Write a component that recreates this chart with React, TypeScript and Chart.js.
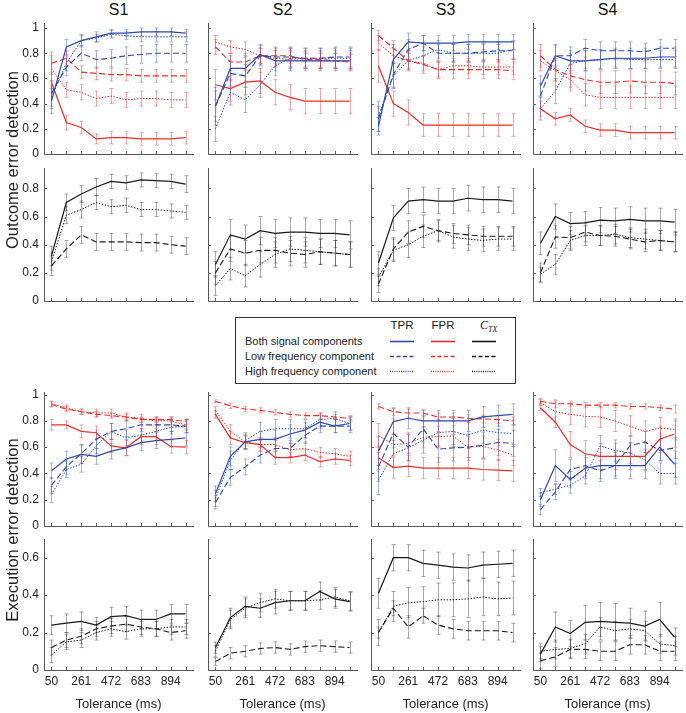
import React, { useEffect, useRef } from "react";
import { Chart, registerables } from "chart.js";

Chart.register(...registerables);

// ---------------- data ----------------
const TOLERANCE = [50, 155.5, 261, 366.5, 472, 577.5, 683, 788.5, 894, 999.5];
const X_TICK_LABELS = ["50", "261", "472", "683", "894"];
const SUBJECTS = ["S1", "S2", "S3", "S4"];
const RATE_Y_TICKS = [0, 0.2, 0.4, 0.6, 0.8, 1];
const OUT_CTX_Y_TICKS = [0, 0.2, 0.4, 0.6, 0.8];
const EXE_CTX_Y_TICKS = [0, 0.2, 0.4, 0.6];
const RATE_SERIES = ["TPR both", "TPR low", "TPR high", "FPR both", "FPR low", "FPR high"];
const CTX_SERIES = ["C_TX both", "C_TX low", "C_TX high"];

// Outcome error detection: TPR / FPR
const OUT_RATE_S1 = [
  [0.42, 0.85, 0.9, 0.93, 0.96, 0.96, 0.97, 0.97, 0.97, 0.96],
  [0.48, 0.69, 0.8, 0.75, 0.76, 0.78, 0.79, 0.8, 0.8, 0.8],
  [0.45, 0.72, 0.9, 0.92, 0.95, 0.94, 0.93, 0.93, 0.93, 0.93],
  [0.57, 0.25, 0.21, 0.12, 0.13, 0.13, 0.12, 0.12, 0.12, 0.13],
  [0.72, 0.76, 0.65, 0.64, 0.63, 0.63, 0.62, 0.62, 0.62, 0.62],
  [0.68, 0.51, 0.49, 0.44, 0.46, 0.43, 0.44, 0.44, 0.43, 0.43],
];
const OUT_RATE_S1_ERR = [
  [0.1, 0.06, 0.05, 0.04, 0.03, 0.03, 0.03, 0.03, 0.03, 0.03],
  [0.1, 0.07, 0.06, 0.07, 0.07, 0.07, 0.07, 0.07, 0.07, 0.07],
  [0.09, 0.06, 0.04, 0.03, 0.03, 0.03, 0.04, 0.04, 0.04, 0.04],
  [0.08, 0.06, 0.05, 0.04, 0.05, 0.05, 0.05, 0.05, 0.05, 0.05],
  [0.09, 0.06, 0.05, 0.05, 0.05, 0.05, 0.05, 0.05, 0.05, 0.05],
  [0.1, 0.06, 0.06, 0.06, 0.06, 0.06, 0.06, 0.06, 0.06, 0.06],
];
const OUT_RATE_S2 = [
  [0.38, 0.68, 0.68, 0.79, 0.74, 0.74, 0.74, 0.74, 0.74, 0.74],
  [0.38, 0.64, 0.62, 0.78, 0.77, 0.77, 0.76, 0.76, 0.77, 0.77],
  [0.2, 0.49, 0.43, 0.55, 0.7, 0.76, 0.76, 0.76, 0.76, 0.76],
  [0.55, 0.52, 0.57, 0.58, 0.49, 0.45, 0.42, 0.42, 0.42, 0.42],
  [0.85, 0.73, 0.73, 0.78, 0.78, 0.78, 0.75, 0.75, 0.74, 0.73],
  [0.89, 0.85, 0.83, 0.78, 0.76, 0.75, 0.74, 0.74, 0.74, 0.74],
];
const OUT_RATE_S2_ERR = [
  [0.15, 0.1, 0.1, 0.08, 0.08, 0.08, 0.08, 0.08, 0.08, 0.08],
  [0.12, 0.1, 0.09, 0.08, 0.08, 0.08, 0.08, 0.08, 0.08, 0.08],
  [0.1, 0.1, 0.1, 0.1, 0.08, 0.08, 0.08, 0.08, 0.08, 0.08],
  [0.12, 0.1, 0.1, 0.1, 0.1, 0.1, 0.1, 0.1, 0.1, 0.1],
  [0.06, 0.07, 0.07, 0.06, 0.06, 0.06, 0.06, 0.06, 0.06, 0.06],
  [0.05, 0.05, 0.06, 0.06, 0.06, 0.06, 0.06, 0.06, 0.06, 0.06],
];
const OUT_RATE_S3 = [
  [0.22, 0.75, 0.89, 0.88, 0.88, 0.88, 0.89, 0.89, 0.89, 0.89],
  [0.28, 0.63, 0.83, 0.88, 0.8, 0.8, 0.8, 0.81, 0.82, 0.82],
  [0.3, 0.62, 0.74, 0.78, 0.83, 0.8, 0.8, 0.8, 0.8, 0.83],
  [0.7, 0.4, 0.33, 0.23, 0.23, 0.23, 0.23, 0.23, 0.23, 0.23],
  [0.94, 0.84, 0.74, 0.71, 0.67, 0.67, 0.67, 0.67, 0.67, 0.66],
  [0.88, 0.78, 0.74, 0.72, 0.67, 0.7, 0.7, 0.69, 0.69, 0.69],
];
const OUT_RATE_S3_ERR = [
  [0.07, 0.12, 0.07, 0.06, 0.06, 0.06, 0.06, 0.06, 0.06, 0.06],
  [0.1, 0.1, 0.08, 0.06, 0.07, 0.07, 0.07, 0.07, 0.07, 0.07],
  [0.12, 0.1, 0.08, 0.07, 0.07, 0.07, 0.07, 0.07, 0.07, 0.07],
  [0.13, 0.1, 0.1, 0.09, 0.09, 0.09, 0.09, 0.09, 0.09, 0.09],
  [0.04, 0.06, 0.07, 0.07, 0.07, 0.07, 0.07, 0.07, 0.07, 0.07],
  [0.06, 0.06, 0.06, 0.06, 0.06, 0.06, 0.06, 0.06, 0.06, 0.06],
];
const OUT_RATE_S4 = [
  [0.54, 0.78, 0.74, 0.74, 0.75, 0.76, 0.76, 0.76, 0.77, 0.77],
  [0.46, 0.78, 0.78, 0.84, 0.82, 0.82, 0.82, 0.81, 0.84, 0.84],
  [0.36, 0.5, 0.72, 0.74, 0.75, 0.76, 0.75, 0.75, 0.75, 0.75],
  [0.36, 0.28, 0.31, 0.22, 0.19, 0.19, 0.17, 0.17, 0.17, 0.17],
  [0.78, 0.67, 0.62, 0.59, 0.57, 0.57, 0.58, 0.57, 0.57, 0.56],
  [0.74, 0.66, 0.59, 0.47, 0.45, 0.45, 0.45, 0.45, 0.45, 0.45],
];
const OUT_RATE_S4_ERR = [
  [0.08, 0.09, 0.08, 0.08, 0.08, 0.08, 0.08, 0.08, 0.08, 0.08],
  [0.1, 0.08, 0.07, 0.07, 0.07, 0.07, 0.07, 0.07, 0.07, 0.07],
  [0.09, 0.1, 0.08, 0.08, 0.07, 0.07, 0.07, 0.07, 0.07, 0.07],
  [0.06, 0.05, 0.05, 0.05, 0.05, 0.05, 0.05, 0.05, 0.05, 0.05],
  [0.09, 0.09, 0.09, 0.09, 0.09, 0.09, 0.09, 0.09, 0.09, 0.09],
  [0.08, 0.08, 0.09, 0.09, 0.09, 0.09, 0.09, 0.09, 0.09, 0.09],
];

// Outcome error detection: C_TX
const OUT_CTX_S1 = [
  [0.32, 0.7, 0.76, 0.81, 0.85, 0.84, 0.86, 0.855, 0.85, 0.83],
  [0.25, 0.37, 0.47, 0.42, 0.42, 0.42, 0.415, 0.415, 0.4, 0.39],
  [0.28, 0.61, 0.65, 0.7, 0.67, 0.68, 0.65, 0.65, 0.64, 0.63],
];
const OUT_CTX_S1_ERR = [
  [0.07, 0.06, 0.06, 0.06, 0.05, 0.05, 0.05, 0.05, 0.05, 0.06],
  [0.07, 0.06, 0.06, 0.06, 0.06, 0.06, 0.06, 0.06, 0.06, 0.06],
  [0.06, 0.06, 0.06, 0.05, 0.05, 0.05, 0.05, 0.05, 0.05, 0.05],
];
const OUT_CTX_S2 = [
  [0.26, 0.47, 0.44, 0.5, 0.48, 0.49, 0.49, 0.48, 0.48, 0.47],
  [0.2, 0.37, 0.34, 0.36, 0.36, 0.34, 0.33, 0.35, 0.34, 0.33],
  [0.11, 0.23, 0.18, 0.26, 0.33, 0.37, 0.36, 0.35, 0.34, 0.33],
];
const OUT_CTX_S2_ERR = [
  [0.09, 0.11, 0.1, 0.1, 0.1, 0.1, 0.1, 0.1, 0.1, 0.1],
  [0.08, 0.09, 0.09, 0.09, 0.09, 0.09, 0.09, 0.09, 0.09, 0.09],
  [0.07, 0.08, 0.08, 0.09, 0.09, 0.09, 0.09, 0.09, 0.09, 0.09],
];
const OUT_CTX_S3 = [
  [0.27, 0.59, 0.71, 0.72, 0.71, 0.71, 0.73, 0.72, 0.72, 0.71],
  [0.12, 0.37, 0.49, 0.53, 0.5, 0.48, 0.47, 0.46, 0.46, 0.46],
  [0.17, 0.36, 0.4, 0.46, 0.5, 0.455, 0.44, 0.43, 0.44, 0.44],
];
const OUT_CTX_S3_ERR = [
  [0.08, 0.09, 0.09, 0.09, 0.09, 0.09, 0.09, 0.09, 0.09, 0.09],
  [0.06, 0.08, 0.08, 0.08, 0.07, 0.07, 0.07, 0.07, 0.07, 0.07],
  [0.06, 0.08, 0.09, 0.08, 0.08, 0.08, 0.08, 0.08, 0.08, 0.08],
];
const OUT_CTX_S4 = [
  [0.41, 0.6, 0.55, 0.555, 0.575, 0.57, 0.58, 0.57, 0.57, 0.56],
  [0.2, 0.455, 0.45, 0.49, 0.465, 0.46, 0.44, 0.42, 0.43, 0.42],
  [0.19, 0.26, 0.43, 0.465, 0.465, 0.475, 0.45, 0.44, 0.43, 0.42],
];
const OUT_CTX_S4_ERR = [
  [0.08, 0.09, 0.08, 0.08, 0.09, 0.09, 0.09, 0.09, 0.09, 0.09],
  [0.07, 0.08, 0.08, 0.07, 0.07, 0.07, 0.07, 0.07, 0.07, 0.07],
  [0.05, 0.07, 0.07, 0.07, 0.07, 0.07, 0.07, 0.07, 0.07, 0.07],
];

// Execution error detection: TPR / FPR
const EXE_RATE_S1 = [
  [0.42, 0.51, 0.545, 0.53, 0.57, 0.595, 0.635, 0.65, 0.66, 0.67],
  [0.31, 0.45, 0.55, 0.66, 0.72, 0.74, 0.77, 0.77, 0.77, 0.76],
  [0.24, 0.43, 0.47, 0.61, 0.72, 0.67, 0.69, 0.72, 0.75, 0.76],
  [0.77, 0.77, 0.72, 0.71, 0.61, 0.595, 0.68, 0.68, 0.605, 0.6],
  [0.925, 0.89, 0.87, 0.85, 0.84, 0.83, 0.81, 0.81, 0.81, 0.795],
  [0.93, 0.9, 0.87, 0.86, 0.86, 0.83, 0.82, 0.8, 0.8, 0.77],
];
const EXE_RATE_S1_ERR = [
  [0.06, 0.06, 0.07, 0.06, 0.06, 0.06, 0.06, 0.06, 0.06, 0.06],
  [0.06, 0.06, 0.07, 0.07, 0.06, 0.06, 0.05, 0.05, 0.05, 0.05],
  [0.06, 0.06, 0.06, 0.06, 0.06, 0.06, 0.05, 0.05, 0.05, 0.05],
  [0.04, 0.03, 0.05, 0.05, 0.05, 0.06, 0.06, 0.06, 0.05, 0.05],
  [0.02, 0.02, 0.02, 0.02, 0.02, 0.02, 0.02, 0.02, 0.02, 0.02],
  [0.02, 0.02, 0.02, 0.03, 0.03, 0.03, 0.03, 0.03, 0.03, 0.03],
];
const EXE_RATE_S2 = [
  [0.245, 0.53, 0.64, 0.66, 0.66, 0.7, 0.73, 0.79, 0.76, 0.78],
  [0.18, 0.37, 0.45, 0.54, 0.59, 0.59, 0.69, 0.76, 0.76, 0.76],
  [0.21, 0.5, 0.65, 0.72, 0.74, 0.74, 0.74, 0.81, 0.82, 0.78],
  [0.85, 0.67, 0.635, 0.62, 0.52, 0.52, 0.54, 0.49, 0.51, 0.5],
  [0.95, 0.915, 0.89, 0.88, 0.865, 0.85, 0.84, 0.84, 0.83, 0.82],
  [0.88, 0.72, 0.64, 0.62, 0.62, 0.58, 0.59, 0.56, 0.55, 0.53],
];
const EXE_RATE_S2_ERR = [
  [0.06, 0.07, 0.06, 0.06, 0.07, 0.07, 0.06, 0.05, 0.05, 0.05],
  [0.05, 0.06, 0.06, 0.06, 0.06, 0.06, 0.06, 0.05, 0.05, 0.05],
  [0.06, 0.07, 0.06, 0.07, 0.07, 0.07, 0.07, 0.05, 0.05, 0.05],
  [0.03, 0.05, 0.05, 0.05, 0.05, 0.04, 0.04, 0.04, 0.04, 0.04],
  [0.01, 0.02, 0.02, 0.02, 0.02, 0.02, 0.02, 0.02, 0.02, 0.02],
  [0.03, 0.05, 0.05, 0.05, 0.05, 0.05, 0.05, 0.04, 0.04, 0.04],
];
const EXE_RATE_S3 = [
  [0.57, 0.795, 0.82, 0.8, 0.8, 0.8, 0.8, 0.83, 0.84, 0.85],
  [0.45, 0.705, 0.6, 0.74, 0.585, 0.595, 0.6, 0.615, 0.635, 0.63],
  [0.35, 0.55, 0.595, 0.655, 0.71, 0.72, 0.69, 0.73, 0.71, 0.705],
  [0.52, 0.445, 0.455, 0.44, 0.44, 0.44, 0.44, 0.43, 0.425, 0.42],
  [0.91, 0.87, 0.86, 0.86, 0.83, 0.83, 0.82, 0.815, 0.81, 0.8],
  [0.69, 0.62, 0.63, 0.675, 0.68, 0.685, 0.6, 0.605, 0.58, 0.54],
];
const EXE_RATE_S3_ERR = [
  [0.11, 0.1, 0.08, 0.08, 0.08, 0.08, 0.08, 0.08, 0.08, 0.08],
  [0.11, 0.11, 0.1, 0.1, 0.1, 0.1, 0.1, 0.1, 0.1, 0.1],
  [0.11, 0.1, 0.1, 0.1, 0.1, 0.1, 0.1, 0.1, 0.1, 0.1],
  [0.09, 0.08, 0.08, 0.08, 0.08, 0.08, 0.08, 0.08, 0.08, 0.08],
  [0.02, 0.03, 0.03, 0.03, 0.03, 0.03, 0.03, 0.03, 0.03, 0.03],
  [0.09, 0.08, 0.08, 0.08, 0.08, 0.08, 0.08, 0.08, 0.08, 0.08],
];
const EXE_RATE_S4 = [
  [0.2, 0.46, 0.355, 0.44, 0.46, 0.46, 0.46, 0.46, 0.6, 0.47],
  [0.125, 0.26, 0.43, 0.46, 0.42, 0.46, 0.61, 0.64, 0.575, 0.595],
  [0.255, 0.28, 0.31, 0.38, 0.61, 0.575, 0.555, 0.505, 0.4, 0.4],
  [0.9, 0.79, 0.62, 0.55, 0.53, 0.53, 0.53, 0.53, 0.66, 0.7],
  [0.95, 0.93, 0.93, 0.92, 0.92, 0.92, 0.91, 0.91, 0.9, 0.89],
  [0.94, 0.87, 0.85, 0.835, 0.83, 0.8, 0.76, 0.72, 0.745, 0.735],
];
const EXE_RATE_S4_ERR = [
  [0.05, 0.12, 0.06, 0.08, 0.1, 0.1, 0.1, 0.1, 0.1, 0.1],
  [0.04, 0.06, 0.08, 0.08, 0.08, 0.08, 0.08, 0.08, 0.08, 0.08],
  [0.03, 0.04, 0.06, 0.06, 0.08, 0.08, 0.08, 0.08, 0.08, 0.08],
  [0.02, 0.04, 0.1, 0.1, 0.1, 0.1, 0.1, 0.1, 0.1, 0.1],
  [0.02, 0.03, 0.02, 0.02, 0.02, 0.02, 0.02, 0.02, 0.02, 0.03],
  [0.02, 0.08, 0.08, 0.08, 0.08, 0.08, 0.08, 0.08, 0.08, 0.08],
];

// Execution error detection: C_TX
const EXE_CTX_S1 = [
  [0.24, 0.25, 0.26, 0.24, 0.285, 0.29, 0.27, 0.27, 0.3, 0.3],
  [0.12, 0.16, 0.18, 0.22, 0.235, 0.245, 0.23, 0.22, 0.2, 0.21],
  [0.08, 0.15, 0.16, 0.2, 0.22, 0.205, 0.22, 0.22, 0.23, 0.23],
];
const EXE_CTX_S1_ERR = [
  [0.05, 0.05, 0.05, 0.04, 0.05, 0.05, 0.05, 0.05, 0.05, 0.05],
  [0.04, 0.04, 0.04, 0.04, 0.04, 0.04, 0.04, 0.04, 0.04, 0.04],
  [0.04, 0.04, 0.04, 0.04, 0.04, 0.04, 0.04, 0.04, 0.04, 0.04],
];
const EXE_CTX_S2 = [
  [0.12, 0.28, 0.34, 0.33, 0.36, 0.37, 0.37, 0.42, 0.38, 0.365],
  [0.045, 0.09, 0.1, 0.115, 0.12, 0.11, 0.125, 0.13, 0.125, 0.12],
  [0.1, 0.27, 0.33, 0.36, 0.38, 0.37, 0.37, 0.375, 0.39, 0.37],
];
const EXE_CTX_S2_ERR = [
  [0.03, 0.05, 0.05, 0.05, 0.06, 0.05, 0.05, 0.05, 0.05, 0.05],
  [0.02, 0.03, 0.03, 0.03, 0.03, 0.03, 0.03, 0.03, 0.03, 0.03],
  [0.03, 0.05, 0.05, 0.05, 0.05, 0.05, 0.05, 0.05, 0.05, 0.05],
];
const EXE_CTX_S3 = [
  [0.41, 0.6, 0.6, 0.57, 0.56, 0.55, 0.545, 0.56, 0.565, 0.57],
  [0.2, 0.33, 0.23, 0.29, 0.24, 0.22, 0.21, 0.21, 0.21, 0.2],
  [0.2, 0.34, 0.36, 0.365, 0.375, 0.375, 0.38, 0.39, 0.38, 0.385],
];
const EXE_CTX_S3_ERR = [
  [0.08, 0.07, 0.07, 0.07, 0.07, 0.07, 0.07, 0.07, 0.07, 0.07],
  [0.03, 0.04, 0.06, 0.04, 0.05, 0.05, 0.05, 0.05, 0.05, 0.05],
  [0.07, 0.08, 0.08, 0.08, 0.09, 0.09, 0.1, 0.1, 0.09, 0.09],
];
const EXE_CTX_S4 = [
  [0.085, 0.23, 0.195, 0.255, 0.26, 0.255, 0.25, 0.235, 0.27, 0.175],
  [0.05, 0.07, 0.11, 0.11, 0.1, 0.1, 0.135, 0.135, 0.1, 0.1],
  [0.1, 0.11, 0.115, 0.14, 0.23, 0.21, 0.22, 0.21, 0.14, 0.13],
];
const EXE_CTX_S4_ERR = [
  [0.04, 0.08, 0.07, 0.09, 0.1, 0.1, 0.08, 0.08, 0.09, 0.05],
  [0.04, 0.05, 0.05, 0.05, 0.05, 0.05, 0.05, 0.05, 0.05, 0.05],
  [0.04, 0.05, 0.05, 0.05, 0.05, 0.05, 0.05, 0.05, 0.05, 0.05],
];

// ---------------- styles ----------------
const FONT = '"Liberation Sans", Arial, Helvetica, sans-serif';
const BLUE = "rgb(48, 74, 168)";
const RED = "rgb(232, 46, 44)";
const BLACK = "rgb(25, 25, 25)";
const BLUE_ERR = "rgba(60, 90, 180, 0.45)";
const RED_ERR = "rgba(232, 60, 60, 0.45)";
const BLACK_ERR = "rgba(60, 60, 60, 0.45)";
const DASH = [6, 3];
const DOT = [1.5, 1.5];

const RATE_STYLES = [
  { color: BLUE, err: BLUE_ERR, dash: [] as number[], width: 1.2 },
  { color: BLUE, err: BLUE_ERR, dash: DASH, width: 1.1 },
  { color: BLUE, err: BLUE_ERR, dash: DOT, width: 1 },
  { color: RED, err: RED_ERR, dash: [] as number[], width: 1.2 },
  { color: RED, err: RED_ERR, dash: DASH, width: 1.1 },
  { color: RED, err: RED_ERR, dash: DOT, width: 1 },
];
const CTX_STYLES = [
  { color: BLACK, err: BLACK_ERR, dash: [] as number[], width: 1.2 },
  { color: BLACK, err: BLACK_ERR, dash: DASH, width: 1.1 },
  { color: BLACK, err: BLACK_ERR, dash: DOT, width: 1 },
];

// ---------------- plugins ----------------
const errorBarPlugin = {
  id: "errorBars",
  beforeDatasetsDraw(chart: any) {
    const { ctx, scales } = chart;
    const x = scales.x;
    const y = scales.y;
    chart.data.datasets.forEach((ds: any) => {
      if (!ds.errors) return;
      ctx.save();
      ctx.strokeStyle = ds.errorColor;
      ctx.lineWidth = 1;
      ctx.setLineDash([]);
      ctx.beginPath();
      ds.data.forEach((p: any, i: number) => {
        const e = ds.errors[i];
        const px = Math.round(x.getPixelForValue(p.x)) + 0.5;
        const yTop = y.getPixelForValue(p.y + e);
        const yBot = y.getPixelForValue(Math.max(0, p.y - e));
        ctx.moveTo(px, yTop);
        ctx.lineTo(px, yBot);
        ctx.moveTo(px - 2, yTop);
        ctx.lineTo(px + 2, yTop);
        ctx.moveTo(px - 2, yBot);
        ctx.lineTo(px + 2, yBot);
      });
      ctx.stroke();
      ctx.restore();
    });
  },
};

const innerTicksPlugin = {
  id: "innerTicks",
  afterDraw(chart: any) {
    const { ctx, chartArea, scales } = chart;
    const x = scales.x;
    const y = scales.y;
    ctx.save();
    ctx.strokeStyle = "#666";
    ctx.lineWidth = 1;
    ctx.setLineDash([]);
    ctx.beginPath();
    x.ticks.forEach((t: any) => {
      const px = Math.round(x.getPixelForValue(t.value)) + 0.5;
      ctx.moveTo(px, chartArea.bottom);
      ctx.lineTo(px, chartArea.bottom - 3);
    });
    y.ticks.forEach((t: any) => {
      const py = Math.round(y.getPixelForValue(t.value)) + 0.5;
      ctx.moveTo(chartArea.left, py);
      ctx.lineTo(chartArea.left + 3, py);
    });
    ctx.stroke();
    ctx.restore();
  },
};

// ---------------- layout ----------------
const COL_LEFT = [44, 208, 371, 533];
const PANEL_W = 149;
const Y_AXIS_W = 40;
const PAD_T = 6;
const PAD_R = 6;

type PanelProps = {
  col: number;
  top: number;
  bottom: number;
  yMax: number;
  yTicks: number[];
  means: number[][];
  errs: number[][];
  styles: { color: string; err: string; dash: number[]; width: number }[];
  names: string[];
  showX: boolean;
};

function Panel(props: PanelProps) {
  const { col, top, bottom, yMax, yTicks, means, errs, styles, names, showX } = props;
  const ref = useRef<HTMLCanvasElement>(null);
  const xH = showX ? 24 : 10;
  const cw = Y_AXIS_W + PANEL_W + PAD_R;
  const ch = PAD_T + (bottom - top) + xH;
  const showY = col === 0;

  useEffect(() => {
    if (!ref.current) return;
    const chart = new Chart(ref.current, {
      type: "line",
      data: {
        datasets: means.map((vals, k) => ({
          label: names[k],
          data: TOLERANCE.map((x, i) => ({ x, y: vals[i] })),
          errors: errs[k],
          errorColor: styles[k].err,
          borderColor: styles[k].color,
          borderDash: styles[k].dash,
          borderWidth: styles[k].width,
          pointRadius: 0,
          fill: false,
          tension: 0,
        })) as any,
      },
      options: {
        animation: false,
        responsive: false,
        devicePixelRatio: 1,
        layout: { padding: { top: PAD_T, right: PAD_R, left: 0, bottom: 0 } },
        plugins: { legend: { display: false }, tooltip: { enabled: false }, title: { display: false } },
        scales: {
          x: {
            type: "linear",
            min: TOLERANCE[0] - (TOLERANCE[1] - TOLERANCE[0]) / 2,
            max: TOLERANCE[TOLERANCE.length - 1] + (TOLERANCE[1] - TOLERANCE[0]) / 2,
            afterBuildTicks: (s: any) => {
              s.ticks = TOLERANCE.map((v) => ({ value: v }));
            },
            afterFit: (s: any) => {
              s.height = xH;
              s.paddingLeft = 0;
              s.paddingRight = 0;
            },
            ticks: {
              display: showX,
              autoSkip: false,
              maxRotation: 0,
              padding: 4,
              color: "#222",
              font: { family: FONT, size: 12 },
              callback: (_v: any, i: number) => (i % 2 === 0 ? X_TICK_LABELS[i / 2] : ""),
            },
            grid: { display: true, drawOnChartArea: false, drawTicks: false },
            border: { display: true, color: "#555", width: 1 },
          },
          y: {
            type: "linear",
            min: 0,
            max: yMax,
            afterBuildTicks: (s: any) => {
              s.ticks = yTicks.map((v) => ({ value: v }));
            },
            afterFit: (s: any) => {
              s.width = Y_AXIS_W;
              s.paddingTop = 0;
              s.paddingBottom = 0;
            },
            ticks: {
              display: showY,
              padding: 5,
              color: "#222",
              font: { family: FONT, size: 12 },
              callback: (v: any) => String(v),
            },
            grid: { display: true, drawOnChartArea: false, drawTicks: false },
            border: { display: true, color: "#555", width: 1 },
          },
        },
      } as any,
      plugins: [errorBarPlugin, innerTicksPlugin],
    });
    return () => chart.destroy();
  }, []);

  return (
    <canvas
      ref={ref}
      width={cw}
      height={ch}
      style={{
        position: "absolute",
        left: COL_LEFT[col] - Y_AXIS_W,
        top: top - PAD_T,
        width: cw,
        height: ch,
        display: "block",
      }}
    />
  );
}

const ROWS = [
  {
    top: 23, bottom: 154, yMax: 1.04, yTicks: RATE_Y_TICKS, styles: RATE_STYLES, names: RATE_SERIES,
    means: [OUT_RATE_S1, OUT_RATE_S2, OUT_RATE_S3, OUT_RATE_S4],
    errs: [OUT_RATE_S1_ERR, OUT_RATE_S2_ERR, OUT_RATE_S3_ERR, OUT_RATE_S4_ERR], showX: false,
  },
  {
    top: 168, bottom: 301, yMax: 0.945, yTicks: OUT_CTX_Y_TICKS, styles: CTX_STYLES, names: CTX_SERIES,
    means: [OUT_CTX_S1, OUT_CTX_S2, OUT_CTX_S3, OUT_CTX_S4],
    errs: [OUT_CTX_S1_ERR, OUT_CTX_S2_ERR, OUT_CTX_S3_ERR, OUT_CTX_S4_ERR], showX: false,
  },
  {
    top: 392, bottom: 526, yMax: 1.02, yTicks: RATE_Y_TICKS, styles: RATE_STYLES, names: RATE_SERIES,
    means: [EXE_RATE_S1, EXE_RATE_S2, EXE_RATE_S3, EXE_RATE_S4],
    errs: [EXE_RATE_S1_ERR, EXE_RATE_S2_ERR, EXE_RATE_S3_ERR, EXE_RATE_S4_ERR], showX: false,
  },
  {
    top: 539, bottom: 670, yMax: 0.7, yTicks: EXE_CTX_Y_TICKS, styles: CTX_STYLES, names: CTX_SERIES,
    means: [EXE_CTX_S1, EXE_CTX_S2, EXE_CTX_S3, EXE_CTX_S4],
    errs: [EXE_CTX_S1_ERR, EXE_CTX_S2_ERR, EXE_CTX_S3_ERR, EXE_CTX_S4_ERR], showX: true,
  },
];

function Legend() {
  const rows = ["Both signal components", "Low frequency component", "High frequency component"];
  const dashes = ["", "4 2.5", "1 1.2"];
  const rowY = [341, 356, 371];
  const cols = [
    { x0: 390, x1: 414, color: BLUE },
    { x0: 431, x1: 455, color: RED },
    { x0: 472, x1: 496, color: BLACK },
  ];
  return (
    <svg
      width={686}
      height={713}
      style={{ position: "absolute", left: 0, top: 0, pointerEvents: "none" }}
    >
      <rect x={235.5} y={317.5} width={280} height={66} fill="white" stroke="#333" strokeWidth={1} />
      <text x={402} y={329} textAnchor="middle" fontFamily={FONT} fontSize={11.5} fill="#222">TPR</text>
      <text x={443} y={329} textAnchor="middle" fontFamily={FONT} fontSize={11.5} fill="#222">FPR</text>
      <text x={480} y={329} fontFamily="'Liberation Serif', 'Times New Roman', serif" fontStyle="italic" fontSize={12} fill="#222">
        C
        <tspan dy={2.5} fontSize={8}>TX</tspan>
      </text>
      {rows.map((r, i) => (
        <text key={r} x={245} y={rowY[i] + 4} fontFamily={FONT} fontSize={11} fill="#222">
          {r}
        </text>
      ))}
      {rowY.map((y, i) =>
        cols.map((c, j) => (
          <line
            key={i + "-" + j}
            x1={c.x0}
            x2={c.x1}
            y1={y + 0.5}
            y2={y + 0.5}
            stroke={c.color}
            strokeWidth={i === 0 ? 1.6 : 1.4}
            strokeDasharray={dashes[i] || undefined}
          />
        ))
      )}
    </svg>
  );
}

export default function App() {
  return (
    <div style={{ position: "absolute", left: 0, top: 0, width: 686, height: 713, background: "white", fontFamily: FONT }}>
      {SUBJECTS.map((s, c) => (
        <div
          key={s}
          style={{
            position: "absolute",
            left: COL_LEFT[c] + PANEL_W / 2,
            top: 10,
            transform: "translate(-50%, -50%)",
            fontSize: 16,
            color: "#111",
            whiteSpace: "nowrap",
          }}
        >
          {s}
        </div>
      ))}
      {ROWS.map((row, r) =>
        SUBJECTS.map((s, c) => (
          <Panel
            key={r + "-" + s}
            col={c}
            top={row.top}
            bottom={row.bottom}
            yMax={row.yMax}
            yTicks={row.yTicks}
            means={row.means[c]}
            errs={row.errs[c]}
            styles={row.styles}
            names={row.names}
            showX={row.showX}
          />
        ))
      )}
      {SUBJECTS.map((s, c) => (
        <div
          key={"xt" + s}
          style={{
            position: "absolute",
            left: COL_LEFT[c] + PANEL_W / 2,
            top: 703,
            transform: "translate(-50%, -50%)",
            fontSize: 13,
            color: "#222",
            whiteSpace: "nowrap",
          }}
        >
          Tolerance (ms)
        </div>
      ))}
      <div
        style={{
          position: "absolute",
          left: 12,
          top: 160,
          transform: "translate(-50%, -50%) rotate(-90deg)",
          fontSize: 16.5,
          color: "#222",
          whiteSpace: "nowrap",
        }}
      >
        Outcome error detection
      </div>
      <div
        style={{
          position: "absolute",
          left: 12,
          top: 530,
          transform: "translate(-50%, -50%) rotate(-90deg)",
          fontSize: 16.5,
          color: "#222",
          whiteSpace: "nowrap",
        }}
      >
        Execution error detection
      </div>
      <Legend />
    </div>
  );
}
